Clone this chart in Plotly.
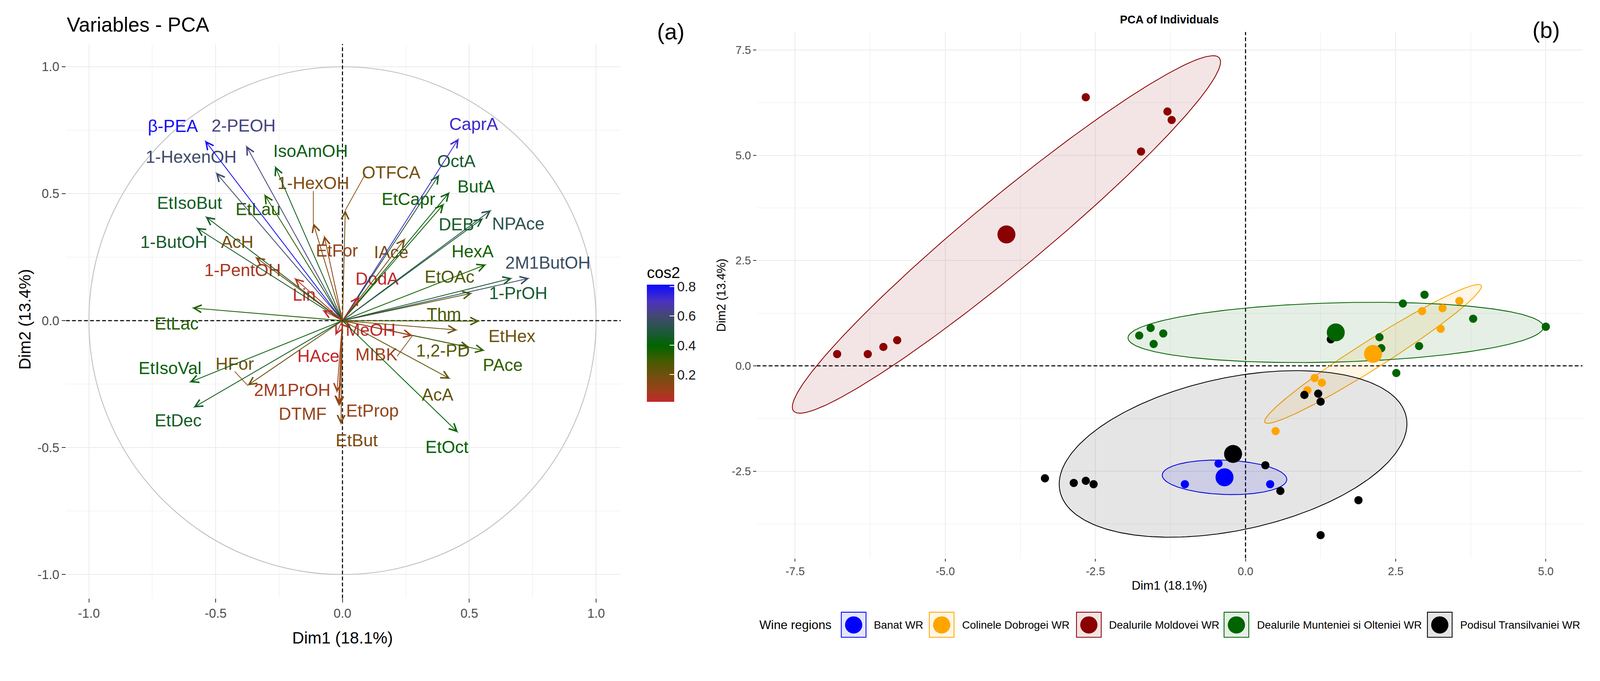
import numpy as np
import plotly.graph_objects as go
from plotly.colors import sample_colorscale

# reference picture size; the page shows about 4% less than that, so all
# pixel sizes are scaled by S and the figure is made to fit what is shown
REF_W, REF_H = 4244, 1744
S = 1 / 1.043
W, H = round(REF_W * S), round(REF_H * S)
FONT = "Liberation Sans, Arial, sans-serif"

# ---------------- (a) variables: coordinates on Dim1 / Dim2 ----------------
var_names = ["β-PEA", "2-PEOH", "1-HexenOH", "IsoAmOH", "1-HexOH", "OTFCA",
             "EtIsoBut", "EtLau", "1-ButOH", "AcH", "EtFor", "1-PentOH", "Lin",
             "EtLac", "EtIsoVal", "EtDec", "HFor", "2M1PrOH", "HAce", "MeOH",
             "DTMF", "EtProp", "EtBut", "CaprA", "OctA", "ButA", "EtCapr", "DEB",
             "NPAce", "IAce", "DodA", "HexA", "EtOAc", "1-PrOH", "2M1ButOH",
             "Thm", "EtHex", "1,2-PD", "PAce", "MIBK", "AcA", "EtOct"]
var_dim1 = [-0.542, -0.380, -0.499, -0.266, -0.115, 0.011,
            -0.540, -0.308, -0.576, -0.343, -0.072, -0.189, -0.078,
            -0.592, -0.603, -0.587, -0.374, -0.022, -0.028, 0.030,
            -0.016, -0.012, -0.006, 0.458, 0.381, 0.422, 0.400, 0.554,
            0.586, 0.247, 0.066, 0.566, 0.510, 0.668, 0.736,
            0.540, 0.452, 0.502, 0.560, 0.276, 0.424, 0.455]
var_dim2 = [0.709, 0.689, 0.583, 0.608, 0.384, 0.435,
            0.410, 0.497, 0.366, 0.250, 0.334, 0.167, 0.041,
            0.050, -0.243, -0.342, -0.255, -0.283, -0.057, -0.030,
            -0.332, -0.335, -0.408, 0.717, 0.574, 0.506, 0.460, 0.403,
            0.435, 0.323, 0.096, 0.221, 0.108, 0.167, 0.167,
            -0.002, -0.037, -0.106, -0.118, -0.059, -0.229, -0.440]
cos2_range = (0.016, 0.815)
cos2_ticks = [0.2, 0.4, 0.6, 0.8]

# where the (repelled) labels sit
label_dim1 = [-0.669, -0.390, -0.597, -0.126, -0.115, 0.192,
              -0.603, -0.333, -0.665, -0.415, -0.022, -0.394, -0.151,
              -0.654, -0.680, -0.648, -0.425, -0.198, -0.095, 0.111,
              -0.157, 0.118, 0.056, 0.517, 0.449, 0.527, 0.260, 0.449,
              0.693, 0.192, 0.136, 0.513, 0.422, 0.693, 0.810,
              0.400, 0.668, 0.396, 0.632, 0.134, 0.375, 0.412]
label_dim2 = [0.760, 0.762, 0.638, 0.661, 0.535, 0.577,
              0.457, 0.432, 0.304, 0.304, 0.270, 0.192, 0.096,
              -0.018, -0.193, -0.400, -0.176, -0.280, -0.146, -0.043,
              -0.373, -0.361, -0.478, 0.768, 0.622, 0.521, 0.472, 0.372,
              0.375, 0.264, 0.158, 0.267, 0.167, 0.102, 0.221,
              0.019, -0.068, -0.124, -0.181, -0.140, -0.298, -0.504]
with_segment = ["1-HexOH", "OTFCA", "HFor", "MIBK"]

# ---------------- (b) individuals ----------------
regions = ["Banat WR", "Colinele Dobrogei WR", "Dealurile Moldovei WR",
           "Dealurile Munteniei si Olteniei WR", "Podisul Transilvaniei WR"]
banat_dim1 = [-0.45, -1.01, 0.41]
banat_dim2 = [-2.32, -2.81, -2.81]
dobrogea_dim1 = [1.15, 1.27, 1.03, 0.50, 2.94, 3.28, 3.56, 3.25]
dobrogea_dim2 = [-0.29, -0.40, -0.58, -1.55, 1.30, 1.37, 1.54, 0.88]
moldova_dim1 = [-6.80, -6.29, -6.03, -5.80, -2.66, -1.30, -1.23, -1.74]
moldova_dim2 = [0.28, 0.28, 0.45, 0.61, 6.38, 6.04, 5.84, 5.09]
muntenia_dim1 = [-1.77, -1.58, -1.37, -1.53, 2.23, 2.26, 2.62, 2.98, 3.79, 2.89, 2.51, 5.00]
muntenia_dim2 = [0.72, 0.90, 0.77, 0.52, 0.68, 0.42, 1.48, 1.69, 1.12, 0.47, -0.17, 0.93]
transilvania_dim1 = [-3.34, -2.86, -2.66, -2.53, 0.33, 0.58, 0.98, 1.21, 1.25, 1.88, 1.25, 1.42]
transilvania_dim2 = [-2.67, -2.78, -2.73, -2.81, -2.36, -2.97, -0.69, -0.66, -0.85, -3.19, -4.02, 0.63]

region_dim1 = [banat_dim1, dobrogea_dim1, moldova_dim1, muntenia_dim1, transilvania_dim1]
region_dim2 = [banat_dim2, dobrogea_dim2, moldova_dim2, muntenia_dim2, transilvania_dim2]
region_colors = ["#0000FF", "#FFA500", "#8B0000", "#006400", "#000000"]
region_fills = ["rgba(0,0,255,0.10)", "rgba(255,165,0,0.10)", "rgba(139,0,0,0.10)",
                "rgba(0,100,0,0.10)", "rgba(0,0,0,0.10)"]
ELLIPSE_SCALE = 1.45

# axis ranges
xr_a, yr_a = [-1.09, 1.097], [-1.094, 1.09]
xr_b, yr_b = [-8.14, 5.61], [-4.57, 7.93]


def px(x):
    return x / REF_W


def py(y):
    return 1 - y / REF_H


def s(v):
    return v * S


cos2 = np.array(var_dim1) ** 2 + np.array(var_dim2) ** 2
cscale = [[0.0, "rgb(192,40,42)"], [0.105, "rgb(152,66,24)"], [0.23, "rgb(112,80,14)"],
          [0.355, "rgb(66,92,0)"], [0.48, "rgb(0,100,0)"], [0.606, "rgb(32,88,64)"],
          [0.731, "rgb(68,72,112)"], [0.856, "rgb(76,50,192)"], [1.0, "rgb(10,10,255)"]]
norm = np.clip((cos2 - cos2_range[0]) / (cos2_range[1] - cos2_range[0]), 0, 1)
var_colors = sample_colorscale(cscale, list(norm))

fig = go.Figure()
LABEL_PX = 46
UNIT_PX = 677

# colorbar carrier (tiny markers at arrow tips)
fig.add_trace(go.Scatter(
    x=var_dim1, y=var_dim2, mode="markers", hoverinfo="skip", showlegend=False,
    marker=dict(size=2, color=cos2, colorscale=cscale, cmin=cos2_range[0], cmax=cos2_range[1],
                showscale=True,
                colorbar=dict(x=px(1719), xanchor="left", xpad=0, y=py(882), yanchor="middle",
                              ypad=0, len=s(365), lenmode="pixels", thickness=s(73),
                              outlinewidth=0,
                              tickvals=cos2_ticks, ticktext=[f"{v:.1f}" for v in cos2_ticks],
                              ticks="inside", ticklen=s(12), tickwidth=s(2), tickcolor="white",
                              tickfont=dict(size=s(36), color="#1a1a1a", family=FONT),
                              title=dict(text="cos2", side="top",
                                         font=dict(size=s(42), color="black", family=FONT))))))

# segments joining far labels to their arrow tips (to the nearest side of the label)
seg_x, seg_y = [], []
for i, name in enumerate(var_names):
    if name not in with_segment:
        continue
    tx, ty = var_dim1[i], var_dim2[i]
    lx, ly = label_dim1[i], label_dim2[i]
    hw = len(name) * 0.6 * LABEL_PX / UNIT_PX / 2
    hh = 0.36 * LABEL_PX / UNIT_PX
    sides = [(lx - hw, ly), (lx + hw, ly), (lx, ly - hh), (lx, ly + hh)]
    ex, ey = min(sides, key=lambda p: (p[0] - tx) ** 2 + (p[1] - ty) ** 2)
    seg_x += [tx, ex, None]
    seg_y += [ty, ey, None]
fig.add_trace(go.Scatter(x=seg_x, y=seg_y, mode="lines", hoverinfo="skip", showlegend=False,
                         line=dict(color="rgb(140,80,25)", width=s(2))))

fig.add_trace(go.Scatter(
    x=label_dim1, y=label_dim2, mode="text", text=var_names, hoverinfo="skip", showlegend=False,
    textfont=dict(size=s(LABEL_PX), color=var_colors, family=FONT)))

annotations = []
for i in range(len(var_names)):
    annotations.append(dict(
        x=var_dim1[i], y=var_dim2[i], ax=0, ay=0, xref="x", yref="y", axref="x", ayref="y",
        text="", showarrow=True, arrowhead=5, arrowsize=1.8, arrowwidth=s(2.2),
        arrowcolor=var_colors[i], standoff=0))

# ---------------- (b) ----------------
t = np.linspace(0, 2 * np.pi, 240)
for xs, ys, col, fill in zip(region_dim1, region_dim2, region_colors, region_fills):
    pts = np.column_stack([xs, ys])
    mu = pts.mean(axis=0)
    vals, vecs = np.linalg.eigh(np.cov(pts, rowvar=False))
    e = vecs @ (np.sqrt(vals)[:, None] * np.vstack([np.cos(t), np.sin(t)])) * ELLIPSE_SCALE
    fig.add_trace(go.Scatter(x=mu[0] + e[0], y=mu[1] + e[1], xaxis="x2", yaxis="y2",
                             mode="lines", fill="toself", fillcolor=fill, hoverinfo="skip",
                             line=dict(color=col, width=s(2.2)), showlegend=False))
for xs, ys, col, name in zip(region_dim1, region_dim2, region_colors, regions):
    fig.add_trace(go.Scatter(x=xs, y=ys, xaxis="x2", yaxis="y2", mode="markers", name=name,
                             marker=dict(size=s(22), color=col), showlegend=False))
# group means on top of every point
for xs, ys, col in zip(region_dim1, region_dim2, region_colors):
    fig.add_trace(go.Scatter(x=[np.mean(xs)], y=[np.mean(ys)], xaxis="x2", yaxis="y2",
                             mode="markers", marker=dict(size=s(48), color=col),
                             showlegend=False, hoverinfo="skip"))

grid = "#EBEBEB"
tick_a = [-1.0, -0.5, 0.0, 0.5, 1.0]
tick_b = [-7.5, -5.0, -2.5, 0.0, 2.5, 5.0]
tick_by = [-2.5, 0.0, 2.5, 5.0, 7.5]


def axis(domain, rng, ticks, minor, anchor, size, tlen):
    return dict(domain=domain, range=rng, anchor=anchor, tickmode="array", tickvals=ticks,
                ticktext=[f"{v:.1f}" for v in ticks], showgrid=True,
                gridcolor=grid, gridwidth=s(2.5), zeroline=False, showline=False,
                ticks="outside", ticklen=s(tlen), tickwidth=s(2), tickcolor="#333333",
                tickfont=dict(size=s(size), color="#4D4D4D", family=FONT),
                minor=dict(tickmode="array", tickvals=minor, showgrid=True, gridcolor=grid,
                           gridwidth=s(1.4), ticks=""))


fig.update_layout(
    width=W, height=H, margin=dict(l=0, r=0, t=0, b=0),
    paper_bgcolor="white", plot_bgcolor="white", showlegend=False,
    xaxis=axis([px(168), px(1649)], xr_a, tick_a, list(np.arange(-1.0, 1.01, 0.25)), "y", 34, 10),
    yaxis=axis([py(1590), py(109)], yr_a, tick_a, list(np.arange(-1.0, 1.01, 0.25)), "x", 34, 10),
    xaxis2=axis([px(2012), px(4217)], xr_b, tick_b, list(np.arange(-7.5, 5.1, 1.25)), "y2", 30, 8),
    yaxis2=axis([py(1483), py(77)], yr_b, tick_by, list(np.arange(-3.75, 7.6, 1.25)), "x2", 30, 8),
)

dash = dict(color="black", width=s(2.8), dash=f"{s(10):.1f}px,{s(6):.1f}px")
shapes = [
    dict(type="circle", xref="x", yref="y", x0=-1, y0=-1, x1=1, y1=1, layer="between",
         line=dict(color="#BDBDBD", width=s(2.2))),
]
for xr, yr, xrng, yrng in (("x", "y", xr_a, yr_a), ("x2", "y2", xr_b, yr_b)):
    shapes.append(dict(type="line", xref=xr, yref=yr, x0=0, x1=0, y0=yrng[0], y1=yrng[1],
                       layer="between", line=dash))
    shapes.append(dict(type="line", xref=xr, yref=yr, x0=xrng[0], x1=xrng[1], y0=0, y1=0,
                       layer="between", line=dash))

# legend for (b), drawn below the panel
key_left = [2238, 2473, 2866, 3260, 3803]
text_left = [2323, 2558, 2951, 3346, 3888]
for kl, tl, col, fill, name in zip(key_left, text_left, region_colors, region_fills, regions):
    shapes.append(dict(type="rect", xref="paper", yref="paper", x0=px(kl), x1=px(kl + 66),
                       y0=py(1694), y1=py(1627), fillcolor=fill,
                       line=dict(color=col, width=s(2.2))))
    shapes.append(dict(type="circle", xref="paper", yref="paper", x0=px(kl + 10), x1=px(kl + 56),
                       y0=py(1684), y1=py(1638), fillcolor=col, line=dict(width=0)))
    annotations.append(dict(xref="paper", yref="paper", x=px(tl), y=py(1661), xanchor="left",
                            yanchor="middle", text=name, showarrow=False,
                            font=dict(size=s(29), color="black", family=FONT)))
annotations.append(dict(xref="paper", yref="paper", x=px(2017), y=py(1661), xanchor="left",
                        yanchor="middle", text="Wine regions", showarrow=False,
                        font=dict(size=s(33), color="black", family=FONT)))

# titles and axis titles
texts = [
    ("Variables - PCA", 168, 57, "left", 54, 0),
    ("Dim1 (18.1%)", 906, 1695, "center", 44, 0),
    ("Dim2 (13.4%)", 58, 845, "center", 44, -90),
    ("(a)", 1782, 76, "center", 60, 0),
    ("<b>PCA of Individuals</b>", 3114, 44, "center", 30, 0),
    ("Dim1 (18.1%)", 3114, 1555, "center", 33, 0),
    ("Dim2 (13.4%)", 1918, 780, "center", 32, -90),
    ("(b)", 4120, 72, "center", 60, 0),
]
for txt, x, y, anc, size, rot in texts:
    annotations.append(dict(xref="paper", yref="paper", x=px(x), y=py(y), xanchor=anc,
                            yanchor="middle", text=txt, showarrow=False, textangle=rot,
                            font=dict(size=s(size), color="black", family=FONT)))

fig.update_layout(shapes=shapes, annotations=annotations)
fig.write_html("out.html")
